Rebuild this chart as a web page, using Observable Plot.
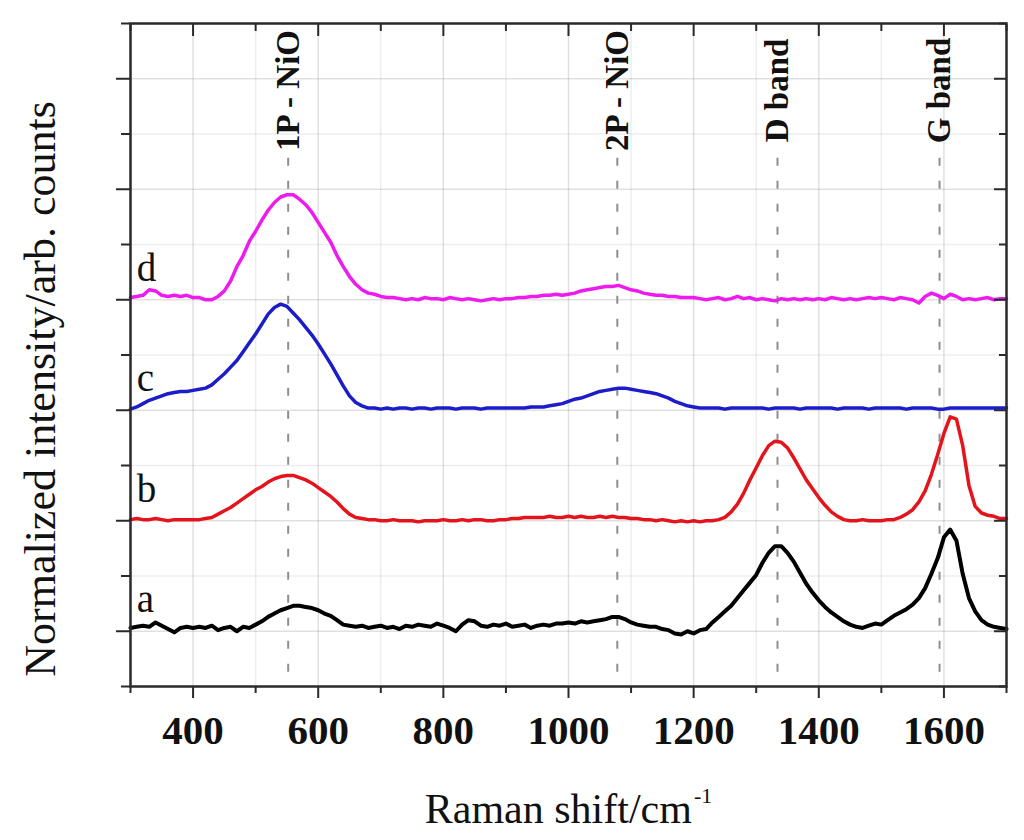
<!DOCTYPE html>
<html>
<head>
<meta charset="utf-8">
<script src="https://cdn.jsdelivr.net/npm/d3@7"></script>
<script src="https://cdn.jsdelivr.net/npm/@observablehq/plot@0.6"></script>
<style>
  html, body { margin: 0; padding: 0; background: #fff; }
  #chart { width: 1024px; height: 840px; }
</style>
</head>
<body>
<div id="chart"></div>
<script>
// Raman shift sample positions (cm-1)
const wavenumber = [
  300,310,320,330,340,350,360,370,380,390,
  400,410,420,430,440,450,460,470,480,490,
  500,510,520,530,540,550,560,570,580,590,
  600,610,620,630,640,650,660,670,680,690,
  700,710,720,730,740,750,760,770,780,790,
  800,810,820,830,840,850,860,870,880,890,
  900,910,920,930,940,950,960,970,980,990,
  1000,1010,1020,1030,1040,1050,1060,1070,1080,1090,
  1100,1110,1120,1130,1140,1150,1160,1170,1180,1190,
  1200,1210,1220,1230,1240,1250,1260,1270,1280,1290,
  1300,1310,1320,1330,1340,1350,1360,1370,1380,1390,
  1400,1410,1420,1430,1440,1450,1460,1470,1480,1490,
  1500,1510,1520,1530,1540,1550,1560,1570,1580,1590,
  1600,1610,1620,1630,1640,1650,1660,1670,1680,1690,
  1700
];

// Normalized intensities above each curve's own baseline
const seriesA = [
  0.03,0.04,0.05,0.04,0.08,0.05,0.02,-0.01,0.03,0.04,
  0.03,0.04,0.03,0.05,0.01,0.03,0.04,0.00,0.04,0.03,
  0.06,0.09,0.13,0.16,0.19,0.21,0.23,0.23,0.22,0.21,
  0.19,0.16,0.14,0.10,0.06,0.05,0.04,0.05,0.03,0.04,
  0.05,0.03,0.04,0.02,0.05,0.04,0.06,0.05,0.04,0.07,
  0.05,0.03,0.00,0.06,0.10,0.09,0.05,0.04,0.06,0.05,
  0.07,0.04,0.05,0.06,0.03,0.05,0.06,0.05,0.07,0.07,
  0.08,0.07,0.09,0.08,0.09,0.10,0.11,0.13,0.13,0.11,
  0.08,0.06,0.05,0.04,0.04,0.02,0.01,-0.02,-0.03,0.00,
  -0.02,0.01,0.02,0.08,0.13,0.18,0.23,0.30,0.37,0.44,
  0.51,0.62,0.71,0.77,0.77,0.71,0.63,0.53,0.43,0.35,
  0.28,0.22,0.17,0.13,0.09,0.06,0.04,0.03,0.05,0.07,
  0.06,0.10,0.14,0.17,0.20,0.24,0.30,0.39,0.52,0.66,
  0.85,0.92,0.82,0.52,0.30,0.18,0.10,0.06,0.04,0.03,
  0.02
];
const seriesB = [
  0.01,0.02,0.01,0.01,0.02,0.01,0.00,0.01,0.01,0.01,
  0.01,0.01,0.02,0.03,0.06,0.09,0.12,0.16,0.20,0.24,
  0.28,0.31,0.35,0.38,0.40,0.41,0.41,0.39,0.37,0.34,
  0.30,0.26,0.22,0.17,0.11,0.06,0.03,0.02,0.01,0.01,
  0.00,0.00,0.01,0.00,0.00,0.00,-0.01,0.00,0.00,0.00,
  0.01,0.00,0.00,0.01,0.00,0.01,0.01,0.00,0.00,0.01,
  0.01,0.02,0.02,0.03,0.03,0.03,0.03,0.04,0.03,0.03,
  0.04,0.03,0.04,0.03,0.03,0.04,0.03,0.04,0.03,0.03,
  0.02,0.02,0.01,0.01,0.00,0.01,0.00,-0.01,0.00,-0.01,
  0.00,-0.01,0.00,0.00,0.01,0.03,0.08,0.15,0.25,0.37,
  0.48,0.59,0.68,0.72,0.71,0.66,0.57,0.47,0.37,0.29,
  0.21,0.14,0.08,0.04,0.01,0.00,0.00,0.01,0.00,0.00,
  0.00,0.01,0.01,0.03,0.06,0.10,0.17,0.27,0.42,0.60,
  0.79,0.94,0.92,0.68,0.32,0.13,0.07,0.05,0.04,0.02,
  0.02
];
const seriesC = [
  0.01,0.03,0.06,0.09,0.11,0.13,0.15,0.16,0.17,0.17,
  0.18,0.19,0.20,0.23,0.28,0.33,0.39,0.45,0.53,0.61,
  0.69,0.78,0.87,0.93,0.96,0.94,0.88,0.82,0.75,0.68,
  0.60,0.51,0.42,0.32,0.22,0.13,0.07,0.04,0.02,0.02,
  0.01,0.02,0.01,0.02,0.02,0.01,0.02,0.02,0.01,0.02,
  0.02,0.02,0.01,0.02,0.02,0.02,0.01,0.02,0.02,0.02,
  0.02,0.02,0.02,0.02,0.03,0.03,0.03,0.04,0.05,0.06,
  0.08,0.10,0.11,0.13,0.15,0.17,0.18,0.19,0.20,0.20,
  0.19,0.18,0.17,0.16,0.15,0.13,0.11,0.08,0.06,0.04,
  0.03,0.02,0.02,0.02,0.02,0.01,0.02,0.02,0.02,0.02,
  0.02,0.02,0.01,0.02,0.02,0.02,0.02,0.01,0.02,0.02,
  0.02,0.02,0.02,0.01,0.02,0.02,0.02,0.02,0.01,0.02,
  0.02,0.02,0.02,0.02,0.01,0.02,0.02,0.02,0.02,0.01,
  0.01,0.02,0.02,0.02,0.02,0.02,0.02,0.02,0.02,0.02,
  0.02
];
const seriesD = [
  0.02,0.03,0.04,0.09,0.08,0.04,0.03,0.04,0.03,0.04,
  0.02,0.02,0.00,0.00,0.03,0.08,0.17,0.30,0.40,0.53,
  0.62,0.72,0.81,0.88,0.93,0.95,0.95,0.91,0.86,0.79,
  0.70,0.61,0.52,0.40,0.30,0.21,0.14,0.09,0.06,0.05,
  0.03,0.02,0.02,0.01,0.00,0.01,0.00,0.02,0.01,0.01,
  0.00,0.02,0.01,0.00,0.01,0.00,-0.01,0.00,0.01,0.00,
  0.01,0.01,0.02,0.02,0.03,0.03,0.04,0.04,0.05,0.04,
  0.05,0.06,0.08,0.09,0.10,0.11,0.12,0.12,0.13,0.11,
  0.09,0.08,0.06,0.05,0.04,0.04,0.03,0.03,0.02,0.02,
  0.02,0.01,0.00,0.01,0.02,0.00,0.01,0.03,0.01,0.02,
  0.00,0.01,0.00,-0.01,0.01,0.00,0.01,0.00,0.01,0.00,
  0.01,0.00,0.02,0.01,0.00,0.01,0.00,0.01,0.02,0.01,
  0.02,0.01,0.00,0.02,0.01,0.00,-0.03,0.03,0.06,0.04,
  0.01,0.05,0.03,0.00,0.01,0.00,0.01,0.02,0.00,0.01,
  0.01
];

const seriesNames = ["a", "b", "c", "d"];
const seriesOffsets = [0, 1, 2, 3];
const seriesColors = ["#000000", "#e3141b", "#1c1cc8", "#ee1bee"];

const peakPositions = [552, 1078, 1334, 1593];
const peakLabels = ["1P - NiO", "2P - NiO", "D band", "G band"];

const xMajorTicks = [400, 600, 800, 1000, 1200, 1400, 1600];
const xMinorTicks = [300, 500, 700, 900, 1100, 1300, 1500, 1700];
const yMajorTicks = [0, 1, 2, 3, 4, 5];
const yMinorTicks = [-0.5, 0.5, 1.5, 2.5, 3.5, 4.5, 5.5];

const xTitle = "Raman shift/cm";
const xTitleSup = "-1";
const yTitle = "Normalized intensity/arb. counts";

// ---- build tables ----
const seriesValues = [seriesA, seriesB, seriesC, seriesD];
const curves = seriesNames.map((name, i) =>
  wavenumber.map((w, j) => ({series: name, x: w, y: seriesOffsets[i] + seriesValues[i][j]}))
);
const seriesLabelRows = seriesNames.map((name, i) => ({name, x: 310, y: seriesOffsets[i] + 0.17}));
const peaks = peakPositions.map((p, i) => ({x: p, label: peakLabels[i]}));

const axisColor = "#2a2a2a";
const noText = () => "";

const chart = Plot.plot({
  width: 1024,
  height: 840,
  marginLeft: 130,
  marginRight: 18,
  marginTop: 23,
  marginBottom: 154,
  style: {fontFamily: "'Liberation Serif', 'Times New Roman', serif", background: "#fff", color: axisColor},
  x: {domain: [300, 1700], label: null},
  y: {domain: [-0.5, 5.5], label: null},
  marks: [
    Plot.gridX(xMinorTicks, {stroke: "#000", strokeOpacity: 0.07, strokeWidth: 1.5}),
    Plot.gridX(xMajorTicks, {stroke: "#000", strokeOpacity: 0.12, strokeWidth: 1.5}),
    Plot.gridY(yMinorTicks, {stroke: "#000", strokeOpacity: 0.07, strokeWidth: 1.5}),
    Plot.gridY(yMajorTicks, {stroke: "#000", strokeOpacity: 0.12, strokeWidth: 1.5}),
    Plot.ruleX(peaks, {x: "x", y1: 4.28, y2: -0.5, stroke: "#8e8e8e", strokeWidth: 2, strokeDasharray: "8,15"}),
    ...curves.map((rows, i) => Plot.line(rows, {
      x: "x", y: "y", stroke: seriesColors[i], strokeWidth: i === 0 ? 4 : 3.5,
      strokeLinejoin: "round"
    })),
    Plot.text(peaks, {
      x: "x", y: 4.894, text: "label", rotate: -90, textAnchor: "middle",
      fontSize: 33, fontWeight: "bold", fill: "#111"
    }),
    Plot.text(seriesLabelRows, {
      x: "x", y: "y", text: "name", textAnchor: "start", lineAnchor: "bottom",
      fontSize: 39, fill: "#111"
    }),
    Plot.frame({stroke: axisColor, strokeWidth: 2.5}),
    // bottom: outward ticks with labels
    Plot.axisX(xMinorTicks, {anchor: "bottom", tickSize: 7, strokeWidth: 2, tickFormat: noText}),
    Plot.axisX(xMajorTicks, {anchor: "bottom", tickSize: 12, strokeWidth: 2, tickPadding: 16,
      tickFormat: d => String(d), fontSize: 41, fontWeight: "bold", fill: "#111"}),
    // top: inward ticks
    Plot.axisX(xMinorTicks, {anchor: "top", tickSize: 7, dy: 7, strokeWidth: 2, tickFormat: noText}),
    Plot.axisX(xMajorTicks, {anchor: "top", tickSize: 12, dy: 12, strokeWidth: 2, tickFormat: noText}),
    // left: outward ticks
    Plot.axisY(yMinorTicks, {anchor: "left", tickSize: 9, strokeWidth: 2, tickFormat: noText}),
    Plot.axisY(yMajorTicks, {anchor: "left", tickSize: 14, strokeWidth: 2, tickFormat: noText}),
    // right: inward ticks
    Plot.axisY(yMinorTicks, {anchor: "right", tickSize: 8, dx: -8, strokeWidth: 2, tickFormat: noText}),
    Plot.axisY(yMajorTicks, {anchor: "right", tickSize: 13, dx: -13, strokeWidth: 2, tickFormat: noText}),
    Plot.text([yTitle], {text: d => d, frameAnchor: "left", rotate: -90, textAnchor: "middle",
      dx: -90, dy: 34, fontSize: 44, fill: "#111"}),
    Plot.text([xTitle], {text: d => d, frameAnchor: "bottom", textAnchor: "middle", lineAnchor: "bottom",
      dy: 136, fontSize: 42, fill: "#111"})
  ]
});

document.getElementById("chart").appendChild(chart);

// superscript on the x title
d3.select(chart).selectAll("text")
  .filter(function () { return this.textContent === xTitle; })
  .append("tspan")
  .attr("dy", "-20")
  .attr("dx", "2")
  .attr("font-size", "22")
  .text(xTitleSup);
</script>
</body>
</html>
